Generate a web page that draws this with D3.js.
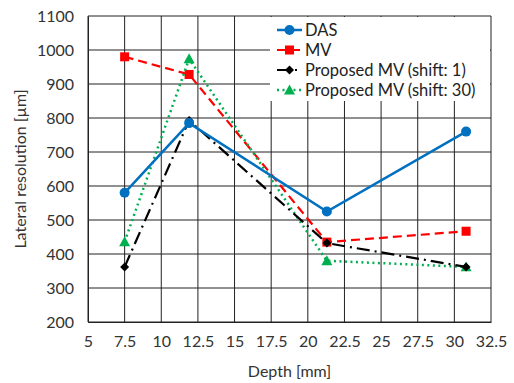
<!DOCTYPE html>
<html>
<head>
<meta charset="utf-8">
<script src="https://cdn.jsdelivr.net/npm/d3@7"></script>
<style>
  body { margin: 0; background: #fff; }
  svg { font-family: Lato, "Open Sans", sans-serif; }
</style>
</head>
<body>
<script>
var width = 514, height = 383;

// data
var depth = [7.5, 11.9, 21.3, 30.8];
var das = [580, 785, 525, 760];
var mv = [980, 928, 435, 467];
var prop1 = [362, 793, 432, 362];
var prop30 = [436, 974, 380, 362];

var xTicks = [5, 7.5, 10, 12.5, 15, 17.5, 20, 22.5, 25, 27.5, 30, 32.5];
var yTicks = [200, 300, 400, 500, 600, 700, 800, 900, 1000, 1100];

var series = [
  {name: "DAS", values: das, color: "#0070c0", dash: null, marker: "circle", w: 2.5},
  {name: "MV", values: mv, color: "#ff0000", dash: "9,5", marker: "square", w: 2.2},
  {name: "Proposed MV (shift: 1)", values: prop1, color: "#000000", dash: "13,5,2,5", marker: "diamond", w: 2.2},
  {name: "Proposed MV (shift: 30)", values: prop30, color: "#00b050", dash: "2,3.5", marker: "triangle", w: 2.5}
];

var margin = {left: 88, right: 23, top: 16, bottom: 61};

var x = d3.scaleLinear().domain([5, 32.5]).range([margin.left, width - margin.right]);
var y = d3.scaleLinear().domain([200, 1100]).range([height - margin.bottom, margin.top]);

var svg = d3.select("body").append("svg")
    .attr("width", width)
    .attr("height", height);

// grid
svg.append("g")
    .attr("stroke", "#222")
    .attr("stroke-width", 1)
  .selectAll("line.v")
  .data(xTicks)
  .join("line")
    .attr("x1", d => x(d)).attr("x2", d => x(d))
    .attr("y1", y(200)).attr("y2", y(1100));

svg.append("g")
    .attr("stroke", "#222")
    .attr("stroke-width", 1)
  .selectAll("line.h")
  .data(yTicks)
  .join("line")
    .attr("x1", x(5)).attr("x2", x(32.5))
    .attr("y1", d => y(d)).attr("y2", d => y(d));

// axes
var xAxis = svg.append("g")
    .attr("transform", `translate(0,${y(200)})`)
    .call(d3.axisBottom(x).tickValues(xTicks).tickSize(0).tickPadding(14).tickFormat(d => d));
var yAxis = svg.append("g")
    .attr("transform", `translate(${x(5)},0)`)
    .call(d3.axisLeft(y).tickValues(yTicks).tickSize(0).tickPadding(14).tickFormat(d => d));
[xAxis, yAxis].forEach(a => {
  a.select(".domain").attr("stroke", "#222");
  a.selectAll("text").attr("font-size", 16).attr("fill", "#333").style("font-family", "Lato, sans-serif");
});

svg.append("text")
    .attr("x", (x(5) + x(32.5)) / 2)
    .attr("y", 377)
    .attr("text-anchor", "middle")
    .attr("font-size", 16)
    .attr("fill", "#333")
    .text("Depth [mm]");

svg.append("text")
    .attr("transform", `translate(26,${(y(200) + y(1100)) / 2}) rotate(-90)`)
    .attr("text-anchor", "middle")
    .attr("font-size", 16)
    .attr("fill", "#333")
    .text("Lateral resolution [µm]");

function drawMarker(g, type, color, cx, cy, scale) {
  scale = scale || 1;
  if (type === "circle") {
    g.append("circle").attr("cx", cx).attr("cy", cy).attr("r", 5 * scale).attr("fill", color);
  } else if (type === "square") {
    var s = 9 * scale;
    g.append("rect").attr("x", cx - s / 2).attr("y", cy - s / 2).attr("width", s).attr("height", s).attr("fill", color);
  } else if (type === "diamond") {
    var r = 4.5 * scale;
    g.append("path").attr("d", `M${cx},${cy - r}L${cx + r},${cy}L${cx},${cy + r}L${cx - r},${cy}Z`).attr("fill", color);
  } else if (type === "triangle") {
    var t = 5.5 * scale;
    g.append("path").attr("d", `M${cx},${cy - t}L${cx + t},${cy + t * 0.8}L${cx - t},${cy + t * 0.8}Z`).attr("fill", color);
  }
}

var line = d3.line().x(d => x(d[0])).y(d => y(d[1]));

// draw in order so DAS sits on top like in the picture
var order = [1, 3, 2, 0];
order.forEach(i => {
  var s = series[i];
  var pts = depth.map((d, j) => [d, s.values[j]]);
  var g = svg.append("g");
  g.append("path")
      .attr("d", line(pts))
      .attr("fill", "none")
      .attr("stroke", s.color)
      .attr("stroke-width", s.w)
      .attr("stroke-dasharray", s.dash);
  pts.forEach(p => drawMarker(g, s.marker, s.color, x(p[0]), y(p[1])));
});

// legend
var lg = svg.append("g");
lg.append("rect")
    .attr("x", 270).attr("y", 17)
    .attr("width", 220).attr("height", 84)
    .attr("fill", "#fff");
series.forEach((s, i) => {
  var ly = 30 + i * 20;
  lg.append("line")
      .attr("x1", 277).attr("x2", 302)
      .attr("y1", ly).attr("y2", ly)
      .attr("stroke", s.color)
      .attr("stroke-width", s.w)
      .attr("stroke-dasharray", s.dash);
  drawMarker(lg, s.marker, s.color, 289.5, ly);
  lg.append("text")
      .attr("x", 305)
      .attr("y", ly)
      .attr("dy", "0.35em")
      .attr("font-size", 16.5)
      .attr("fill", "#222")
      .text(s.name);
});
</script>
</body>
</html>
